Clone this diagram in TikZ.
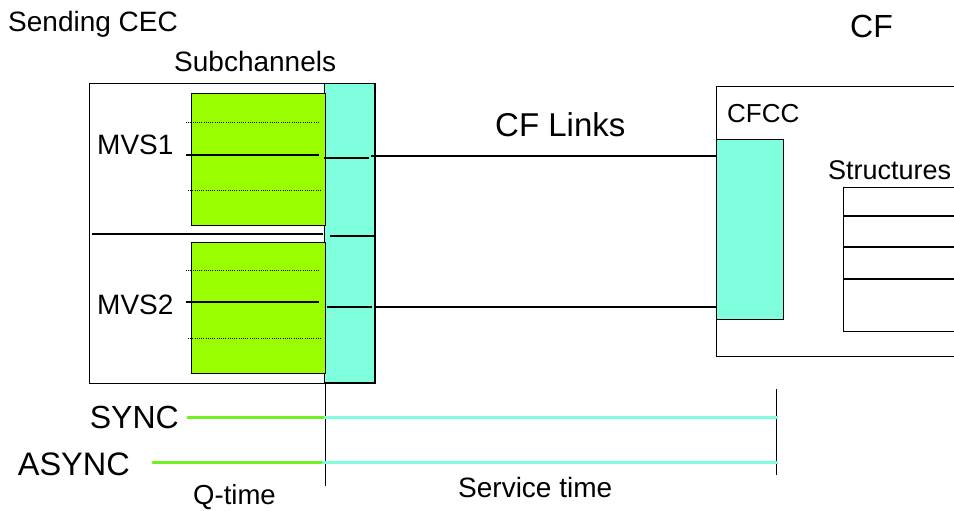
\documentclass[tikz,border=0pt]{standalone}
\usepackage{fontspec}
\setmainfont{Liberation Sans}
\definecolor{lgreen}{HTML}{99FF00}
\definecolor{lcyan}{HTML}{80FFDF}
\definecolor{gline}{HTML}{70F020}
\definecolor{cline}{HTML}{80FFE0}
\begin{document}
\begin{tikzpicture}[x=1pt,y=-1pt,
  lbl/.style={inner sep=0pt,anchor=base west},
  box/.style={draw=black,line width=1.3pt},
  dot/.style={line width=1pt,dash pattern=on 1pt off 1.2pt},
  sol/.style={line width=1.2pt},
  link/.style={line width=2.8pt},
  gl/.style={draw=gline,line width=3.5pt},
  cl/.style={draw=cline,line width=3.5pt}]
\useasboundingbox (0,0) rectangle (954,511);
\begin{scope}
\clip (0,0) rectangle (954,511);
% texts
\node[lbl,font=\fontsize{28}{28}\selectfont] (tsend) at (8,32) {Sending CEC};
\node[lbl,font=\fontsize{28}{28}\selectfont] (tsub) at (174,72) {Subchannels};
\node[lbl,font=\fontsize{32}{32}\selectfont] (tcf) at (850,38) {CF};
% sending CEC box
\node[box,minimum width=286pt,minimum height=300pt,inner sep=0pt,anchor=north west] (cec) at (89,83) {};
% cyan subchannel bar
\node[draw=black,line width=1.3pt,fill=lcyan,minimum width=50pt,minimum height=299pt,inner sep=0pt,anchor=north west] (bar) at (324,83) {};
% green MVS boxes
\node[draw=black,line width=1pt,fill=lgreen,minimum width=134pt,minimum height=132pt,inner sep=0pt,anchor=north west] (g1) at (191,93) {};
\node[draw=black,line width=1pt,fill=lgreen,minimum width=134pt,minimum height=131pt,inner sep=0pt,anchor=north west] (g2) at (191,242) {};
\draw[dot] (186,122) -- (320,122);
\draw[sol] (186,155) -- (319,155);
\draw[dot] (188,190) -- (321,190);
\draw[dot] (186,270) -- (320,270);
\draw[sol] (186,302) -- (319,302);
\draw[dot] (188,338) -- (321,338);
\draw[link] (92,234) -- (323,234);
% lines in the bar
\draw[sol] (324,158) -- (369,158);
\draw[sol] (330,236) -- (375,236);
\draw[sol] (327,307) -- (372,307);
\node[lbl,font=\fontsize{28}{28}\selectfont] (tm1) at (97,154) {MVS1};
\node[lbl,font=\fontsize{28}{28}\selectfont] (tm2) at (97,314) {MVS2};
% CF box
\node[box,minimum width=260pt,minimum height=270pt,inner sep=0pt,anchor=north west] (cf) at (716,86) {};
\node[draw=black,line width=1pt,fill=lcyan,minimum width=67pt,minimum height=180pt,inner sep=0pt,anchor=north west] (cfcc) at (716,139) {};
\node[lbl,font=\fontsize{26}{26}\selectfont] (tcfcc) at (727,122) {CFCC};
\node[lbl,font=\fontsize{27}{27}\selectfont] (tstr) at (828,179) {Structures};
\node[draw=black,line width=1pt,minimum width=140pt,minimum height=144pt,inner sep=0pt,anchor=north west] (str) at (843,187) {};
\draw[sol] (843,216) -- (960,216);
\draw[sol] (843,247) -- (960,247);
\draw[sol] (843,279) -- (960,279);
% links
\coordinate (l1a) at (371,156);
\coordinate (l2a) at (375,307);
\draw[link] (l1a) -- (cfcc.west |- l1a);
\draw[link] (l2a) -- (cfcc.west |- l2a);
\node[lbl,font=\fontsize{33}{33}\selectfont] (tlinks) at (495,136) {CF Links};
% timing
\coordinate (v1t) at (325,383);
\coordinate (v1b) at (325,486);
\coordinate (v2t) at (776,389);
\coordinate (v2b) at (776,475);
\draw[line width=0.8pt] (v1t) -- (v1b);
\draw[line width=0.8pt] (v2t) -- (v2b);
\node[inner sep=0pt,anchor=base east,font=\fontsize{32}{32}\selectfont] (tsync) at (179,428) {SYNC};
\node[inner sep=0pt,anchor=base east,font=\fontsize{32.5}{32.5}\selectfont] (tasync) at (130,475) {ASYNC};
\coordinate (s0) at (188,417.5);
\coordinate (s1) at (323,417.5);
\coordinate (s2) at (778,417.5);
\coordinate (a0) at (153,462.5);
\coordinate (a1) at (321,462.5);
\coordinate (a2) at (778,462.5);
\draw[cl] (s1) -- (s2);
\draw[cl] (a1) -- (a2);
\draw[gl,line cap=round] (s0) -- (s1);
\draw[gl,line cap=round] (a0) -- (a1);
\node[lbl,font=\fontsize{27.5}{27.5}\selectfont] (tq) at (193,504) {Q-time};
\node[lbl,font=\fontsize{28}{28}\selectfont] (tsvc) at (458,497) {Service time};
\end{scope}
\end{tikzpicture}
\end{document}
